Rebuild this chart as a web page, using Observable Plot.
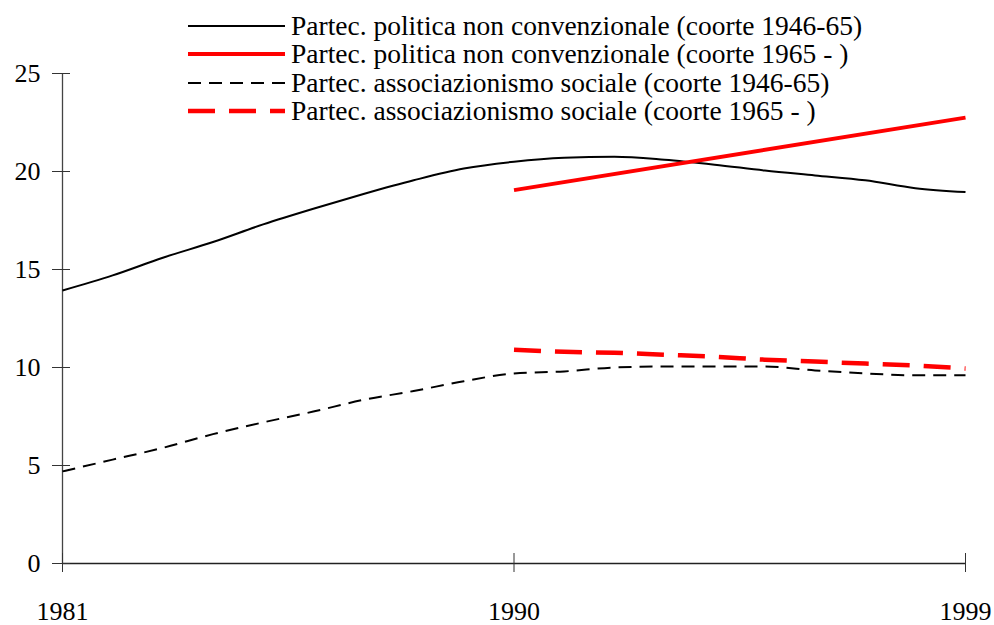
<!DOCTYPE html>
<html>
<head>
<meta charset="utf-8">
<script src="https://cdn.jsdelivr.net/npm/d3@7"></script>
<script src="https://cdn.jsdelivr.net/npm/@observablehq/plot@0.6"></script>
<style>
  html, body { margin: 0; padding: 0; background: #fff; }
  #wrap { position: relative; width: 994px; height: 625px; }
  #legend { position: absolute; left: 188px; top: 12px; font-family: "Liberation Serif", "Times New Roman", serif; font-size: 27.5px; color: #000; }
  .row { display: flex; align-items: center; height: 28.3px; white-space: nowrap; }
  .row svg { margin-right: 6px; flex: none; }
</style>
</head>
<body>
<div id="wrap"></div>
<script>
const years = [1981,1982,1983,1984,1985,1986,1987,1988,1989,1990,1991,1992,1993,1994,1995,1996,1997,1998,1999];
const yearsNew = [1990,1991,1992,1993,1994,1995,1996,1997,1998,1999];
const yearsNewPol = [1990, 1999];

const polOld = [13.93,14.7,15.6,16.4,17.3,18.1,18.85,19.55,20.15,20.5,20.7,20.75,20.6,20.35,20.05,19.8,19.55,19.15,18.95];
const polNew = [19.05, 22.75];
const assocOld = [4.7,5.3,5.9,6.6,7.2,7.75,8.35,8.8,9.3,9.7,9.8,10.0,10.05,10.05,10.05,9.85,9.7,9.6,9.6];
const assocNew = [10.9,10.8,10.75,10.65,10.55,10.4,10.3,10.2,10.1,9.95];

const xTicks = [1981, 1990, 1999];
const yTicks = [0, 5, 10, 15, 20, 25];

const seriesNames = [
  "Partec. politica non convenzionale (coorte 1946-65)",
  "Partec. politica non convenzionale (coorte 1965 - )",
  "Partec. associazionismo sociale (coorte 1946-65)",
  "Partec. associazionismo sociale (coorte 1965 - )"
];

const styles = [
  {stroke: "#000", strokeWidth: 2, dash: null},
  {stroke: "#ff0000", strokeWidth: 4, dash: null},
  {stroke: "#000", strokeWidth: 2, dash: "13,8"},
  {stroke: "#ff0000", strokeWidth: 4.5, dash: "27,14"}
];

const toRows = (xs, ys) => xs.map((x, i) => ({x, y: ys[i]}));
const data = [
  toRows(years, polOld),
  toRows(yearsNewPol, polNew),
  toRows(years, assocOld),
  toRows(yearsNew, assocNew)
];

const font = '"Liberation Serif", "Times New Roman", serif';

const chart = Plot.plot({
  width: 994,
  height: 625,
  marginLeft: 62,
  marginRight: 29,
  marginTop: 73,
  marginBottom: 62,
  style: {fontFamily: font, fontSize: "26px", background: "#fff"},
  x: {domain: [1981, 1999], ticks: xTicks, tickFormat: d => String(d)},
  y: {domain: [0, 25], ticks: yTicks},
  marks: [
    Plot.ruleX([1981], {stroke: "#444", strokeWidth: 1.3, y1: 0, y2: 25}),
    Plot.ruleY([0], {stroke: "#222", strokeWidth: 1.3}),
    Plot.axisY({ticks: yTicks, tickSize: 10, tickPadding: 12, label: null, stroke: "#333", fontSize: 26}),
    Plot.axisY({ticks: yTicks, tickSize: -8, text: null, label: null, stroke: "#333"}),
    Plot.axisX({ticks: xTicks, tickSize: 9, tickPadding: 29, label: null, tickFormat: d => String(d), stroke: "#333", fontSize: 26}),
    Plot.axisX({ticks: xTicks, tickSize: -10, text: null, label: null, stroke: "#333"}),
    ...data.map((d, i) => Plot.line(d, {
      x: "x", y: "y",
      stroke: styles[i].stroke,
      strokeWidth: styles[i].strokeWidth,
      strokeDasharray: styles[i].dash,
      strokeLinecap: "butt",
      curve: "monotone-x"
    }))
  ]
});

const wrap = document.getElementById("wrap");
wrap.appendChild(chart);

// Legend (HTML overlay)
const legend = document.createElement("div");
legend.id = "legend";
seriesNames.forEach((name, i) => {
  const row = document.createElement("div");
  row.className = "row";
  const s = styles[i];
  row.innerHTML = `<svg width="97" height="10"><line x1="0" x2="97" y1="5" y2="5" stroke="${s.stroke}" stroke-width="${s.strokeWidth}" ${s.dash ? `stroke-dasharray="${s.dash}"` : ""}/></svg><span>${name}</span>`;
  legend.appendChild(row);
});
wrap.appendChild(legend);
</script>
</body>
</html>
